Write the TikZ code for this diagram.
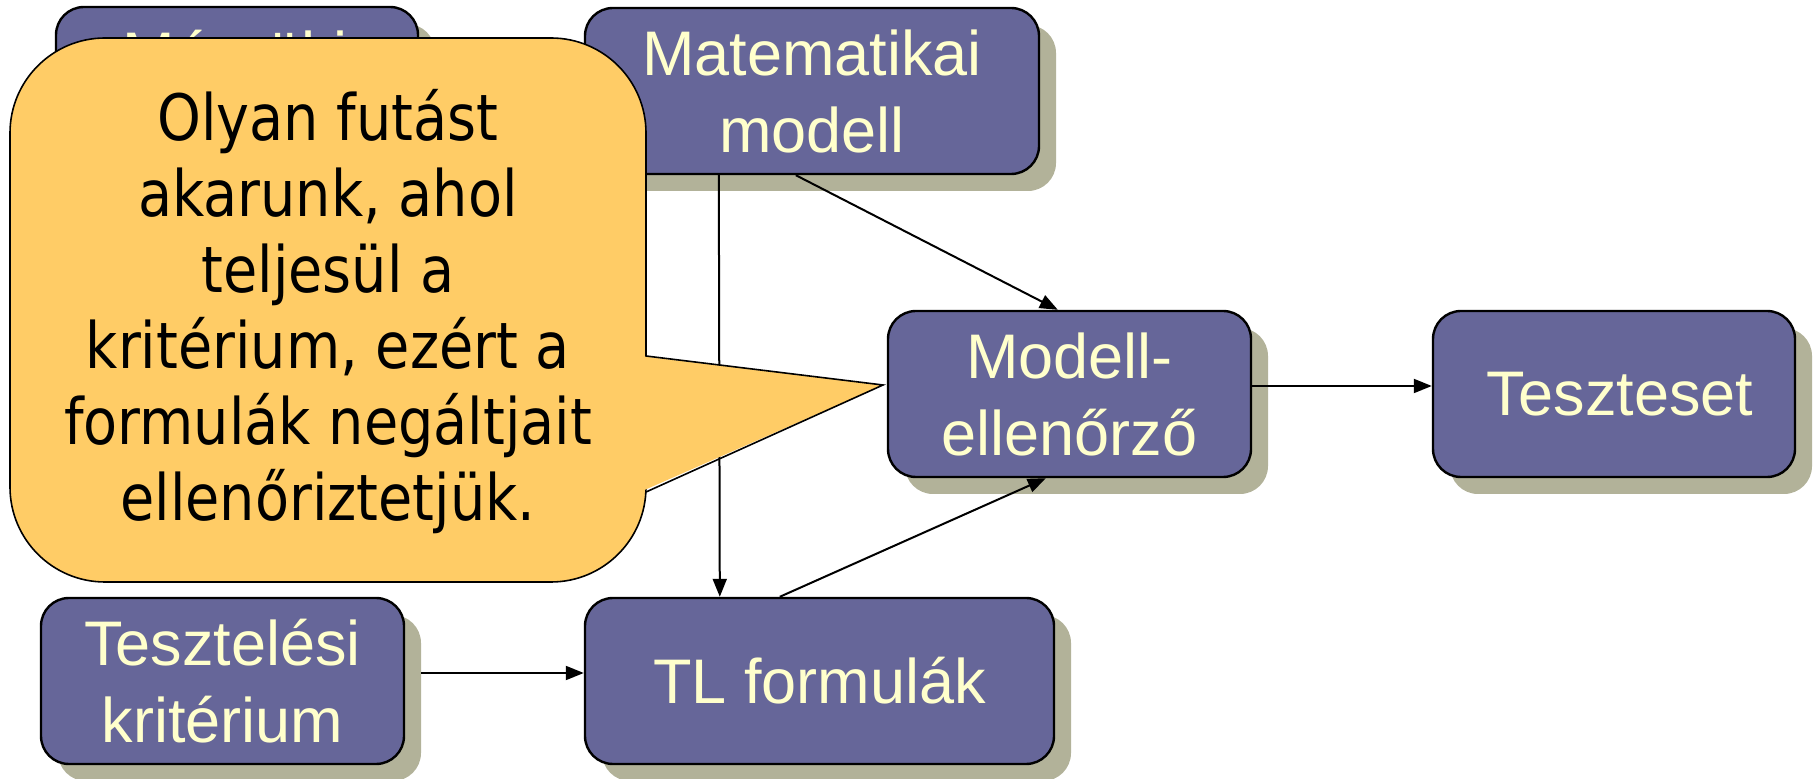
\documentclass[tikz,border=0pt]{standalone}
\usepackage{fontspec}
\setmainfont{Liberation Sans}
\newfontfamily\calloutfont[FakeStretch=0.87]{DejaVu Sans}
\usetikzlibrary{shadows,arrows.meta,calc}
\definecolor{boxfill}{HTML}{666699}
\definecolor{boxtext}{HTML}{FFFFCC}
\definecolor{shadowc}{HTML}{B2B299}
\definecolor{calloutfill}{HTML}{FFCC66}
\begin{document}
\begin{tikzpicture}[x=0.5pt,y=-0.5pt,
  box/.style={draw=black, line width=1.2pt, fill=boxfill, rounded corners=14pt,
    text=boxtext, align=center, inner sep=0pt,
    font=\fontsize{31.5}{38.5}\selectfont,
    drop shadow={shadow xshift=8.5pt, shadow yshift=-8.5pt, fill=shadowc, opacity=1}},
  arr/.style={line width=1pt, -{Triangle[length=9pt,width=7pt]}},
  ln/.style={line width=1pt},
  calloutbox/.style={draw=black, line width=0.8pt, fill=calloutfill,
    rounded corners=47.5pt, inner sep=0pt}]
\useasboundingbox (0,0) rectangle (1814,779);

% boxes
\node[box, minimum width=181pt, minimum height=83.5pt] (mern) at (237,90.5) {};
\node[text=boxtext, anchor=base, inner sep=0pt, font=\fontsize{31.5}{38.5}\selectfont] (merntxt) at (235,77) {Mérnöki};
\node[box, minimum width=227pt, minimum height=83pt] (mat) at (812,91) {Matematikai\\modell};
\node[box, minimum width=181.5pt, minimum height=83pt] (me) at (1069.5,394) {Modell-\\ellenőrző};
\node[box, minimum width=181pt, minimum height=83pt] (tsz) at (1614,394) {\hspace*{6pt}Teszteset};
\node[box, minimum width=181.5pt, minimum height=83pt] (tk) at (222.5,681) {Tesztelési\\kritérium};
\node[box, minimum width=234.5pt, minimum height=83pt] (tl) at (819.5,681) {TL formulák};

% connectors
\draw[arr] ([xshift=67.5pt]mat.south west) -- ([xshift=68pt]tl.north west);
\draw[arr] ([xshift=106pt]mat.south west) -- ([xshift=85.5pt]me.north west);
\draw[arr] ([xshift=98pt]tl.north west) -- ([xshift=79.5pt]me.south west);
\draw[arr] ([yshift=4pt]me.east) -- ([yshift=4pt]tsz.west);
\draw[arr] ([xshift=8pt,yshift=4pt]tk.east) -- ([yshift=4pt]tl.west);

% callout
\node[calloutbox, minimum width=318pt, minimum height=272pt] (callout) at (328,310) {};
\coordinate (pa) at (646,356);
\coordinate (tip) at (883,385);
\coordinate (pb) at (646,492);
\fill[calloutfill] ([xshift=-3pt]pa) -- (tip) -- ([xshift=-3pt]pb) -- cycle;
\draw[line width=0.8pt] (pa) -- (tip) -- (pb);
\node[font=\calloutfont\fontsize{32}{38}\selectfont, align=center, inner sep=0pt] (ctext) at (328,312)
  {Olyan futást\\akarunk, ahol\\teljesül a\\kritérium, ezért a\\formulák negáltjait\\ellenőriztetjük.};
\end{tikzpicture}
\end{document}
